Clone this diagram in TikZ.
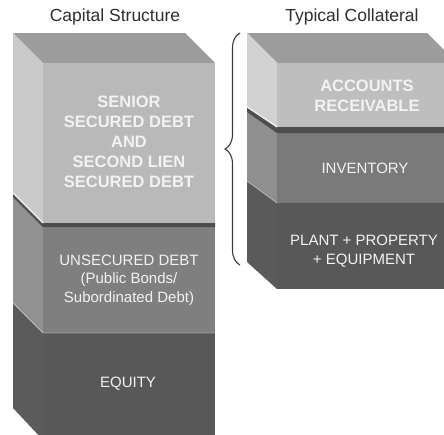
\documentclass[tikz,border=0pt]{standalone}
\usepackage{fontspec}
\setmainfont{Liberation Sans}
\usetikzlibrary{decorations.pathreplacing}
\definecolor{topc}{HTML}{9C9C9C}
\definecolor{senL}{HTML}{CACACA}
\definecolor{senF}{HTML}{B9B9B9}
\definecolor{unsL}{HTML}{919191}
\definecolor{unsF}{HTML}{7F7F7F}
\definecolor{eqL}{HTML}{5B5B5B}
\definecolor{eqF}{HTML}{585858}
\definecolor{arL}{HTML}{D2D2D2}
\definecolor{arF}{HTML}{BEBEBE}
\definecolor{invL}{HTML}{8F8F8F}
\definecolor{invF}{HTML}{7A7A7A}
\definecolor{ppeL}{HTML}{5A5A5A}
\definecolor{ppeF}{HTML}{585858}
\definecolor{gapc}{HTML}{4E4E4E}
\definecolor{txtc}{HTML}{F2F2F2}
\definecolor{titc}{HTML}{2E2E2E}
\definecolor{bracec}{HTML}{3A3A3A}
\tikzset{
  boldtxt/.style={text=txtc, font=\fontsize{16.5}{20}\selectfont\bfseries, align=center, inner sep=0pt},
  regtxt/.style={text=txtc, font=\fontsize{15}{18.5}\selectfont, align=center, inner sep=0pt},
  titletxt/.style={text=titc, font=\fontsize{17.5}{20}\selectfont, inner sep=0pt},
  hilite/.style={draw=white, line width=1.2pt, opacity=0.85},
  gapstrip/.style={fill=gapc},
  bracestyle/.style={draw=bracec, line width=1.1pt, decorate, decoration={brace, amplitude=15pt}},
}
\begin{document}
\begin{tikzpicture}[x=1pt,y=-1pt]
\useasboundingbox (0,0) rectangle (444,434);
\clip (0,0) rectangle (444,434);
\fill[white] (0,0) rectangle (444,434);
% ---------- left stack ----------
% equity
\fill[eqL] (13,303) -- (43,333) -- (43,440) -- (13,408) -- cycle;
\fill[eqF] (43,333) rectangle (215,440);
% unsecured
\fill[unsL] (13,193) -- (43,223) -- (43,333) -- (13,303) -- cycle;
\fill[unsF] (43,223) rectangle (215,333);
\draw[white, line width=0.8pt, opacity=0.35] (13,303) -- (43,333) -- (215,333);
% gap between senior and unsecured
\fill[gapstrip] (13,193) -- (43,223) -- (215,223) -- (215,227) -- (43,227) -- (13,197) -- cycle;
% senior
\fill[topc] (13,33) -- (185,33) -- (215,63) -- (43,63) -- cycle;
\fill[senL] (13,33) -- (43,63) -- (43,223) -- (13,193) -- cycle;
\fill[senF] (43,63) rectangle (215,223);
\draw[hilite] (13,193) -- (43,223);
% ---------- right stack ----------
% plant
\fill[ppeL] (247,181) -- (277,203) -- (277,289) -- (247,262) -- cycle;
\fill[ppeF] (277,203) rectangle (460,289);
% inventory
\fill[invL] (247,107) -- (277,127) -- (277,203) -- (247,181) -- cycle;
\fill[invF] (277,127) rectangle (460,203);
\draw[white, line width=0.8pt, opacity=0.35] (247,181) -- (277,203);
% gap between AR and inventory
\fill[gapstrip] (247,107) -- (277,127) -- (460,127) -- (460,133) -- (277,133) -- (247,112) -- cycle;
% accounts receivable
\fill[topc] (247,33) -- (427,33) -- (457,63) -- (277,63) -- cycle;
\fill[arL] (247,33) -- (277,63) -- (277,127) -- (247,107) -- cycle;
\fill[arF] (277,63) rectangle (460,127);
\draw[hilite] (247,107) -- (277,127);
% ---------- brace ----------
\coordinate (bb) at (240,265);
\coordinate (bt) at (240,33);
\draw[bracestyle] (bb) -- (bt);
% ---------- texts ----------
\node[titletxt] (t1) at (115,17) {Capital Structure};
\node[titletxt] (t2) at (352,17) {Typical Collateral};
\node[boldtxt] (senior) at (129,142) {SENIOR\\SECURED DEBT\\AND\\SECOND LIEN\\SECURED DEBT};
\node[regtxt] (unsec) at (129,280) {UNSECURED DEBT\\(Public Bonds/\\Subordinated Debt)};
\node[regtxt] (equity) at (128,384) {EQUITY};
\node[boldtxt] (ar) at (367,96) {ACCOUNTS\\RECEIVABLE};
\node[regtxt] (inv) at (365,168) {INVENTORY};
\node[regtxt] (ppe) at (364,251) {PLANT + PROPERTY\\+ EQUIPMENT};
\end{tikzpicture}
\end{document}
